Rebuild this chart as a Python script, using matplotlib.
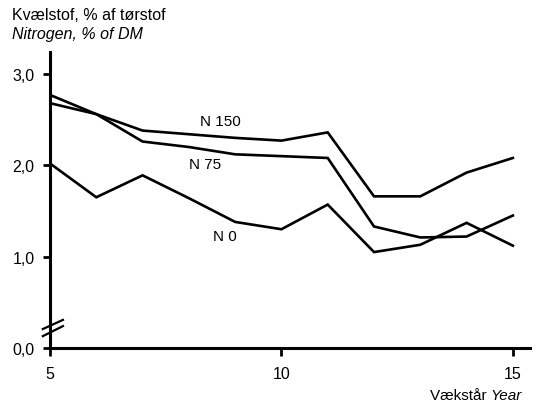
import matplotlib
matplotlib.use("Agg")
import matplotlib.pyplot as plt

years = [5, 6, 7, 8, 9, 10, 11, 12, 13, 14, 15]
n150 = [2.68, 2.56, 2.38, 2.34, 2.30, 2.27, 2.36, 1.66, 1.66, 1.92, 2.08]
n75 = [2.77, 2.56, 2.26, 2.20, 2.12, 2.10, 2.08, 1.33, 1.21, 1.22, 1.45]
n0 = [2.02, 1.65, 1.89, 1.64, 1.38, 1.30, 1.57, 1.05, 1.13, 1.37, 1.12]
series_labels = ["N 150", "N 75", "N 0"]
label_pos = [(8.25, 2.48), (8.0, 2.01), (8.52, 1.23)]
yticks = [0.0, 1.0, 2.0, 3.0]
ytick_labels = ["0,0", "1,0", "2,0", "3,0"]
xticks = [5, 10, 15]

plt.rcParams['font.family'] = ['Liberation Sans', 'DejaVu Sans']

fig = plt.figure(figsize=(5.44, 4.10), dpi=100)
ax = fig.add_axes([50/544, 1-349/410, 480/544, 296/410])

for vals in (n150, n75, n0):
    ax.plot(years, vals, color='black', lw=1.9, solid_joinstyle='miter')

for lab, (x, y) in zip(series_labels, label_pos):
    ax.text(x, y, lab, fontsize=11, ha='left', va='center')

ax.set_xlim(5, 15.37)
ax.set_ylim(0, 3.24)
ax.set_xticks(xticks)
ax.set_xticklabels([str(t) for t in xticks], fontsize=11.5)
ax.set_yticks(yticks)
ax.set_yticklabels(ytick_labels, fontsize=11.5)
for s in ('top', 'right'):
    ax.spines[s].set_visible(False)
for s in ('left', 'bottom'):
    ax.spines[s].set_linewidth(2.2)
ax.tick_params(axis='x', direction='out', length=6, width=2, pad=7)
ax.tick_params(axis='y', direction='out', length=5, width=2, pad=6)

# axis break marks on the y axis
for y0, y1 in ((0.064, 0.095), (0.040, 0.074)):
    ax.plot([-0.015, 0.027], [y0, y1], transform=ax.transAxes,
            color='black', lw=1.6, clip_on=False)

fig.text(12/544, 1-16/410, "Kvælstof, % af tørstof", fontsize=11.5, va='center')
fig.text(12/544, 1-34/410, "Nitrogen, % of DM", fontsize=11.5, style='italic', va='center')

t1 = fig.text(430/544, 1-396/410, "Vækstår ", fontsize=11, va='center')
fig.canvas.draw()
bb = t1.get_window_extent()
fig.text(bb.x1/544, 1-396/410, "Year", fontsize=11, style='italic', va='center')

fig.savefig("out.png", dpi=100)
